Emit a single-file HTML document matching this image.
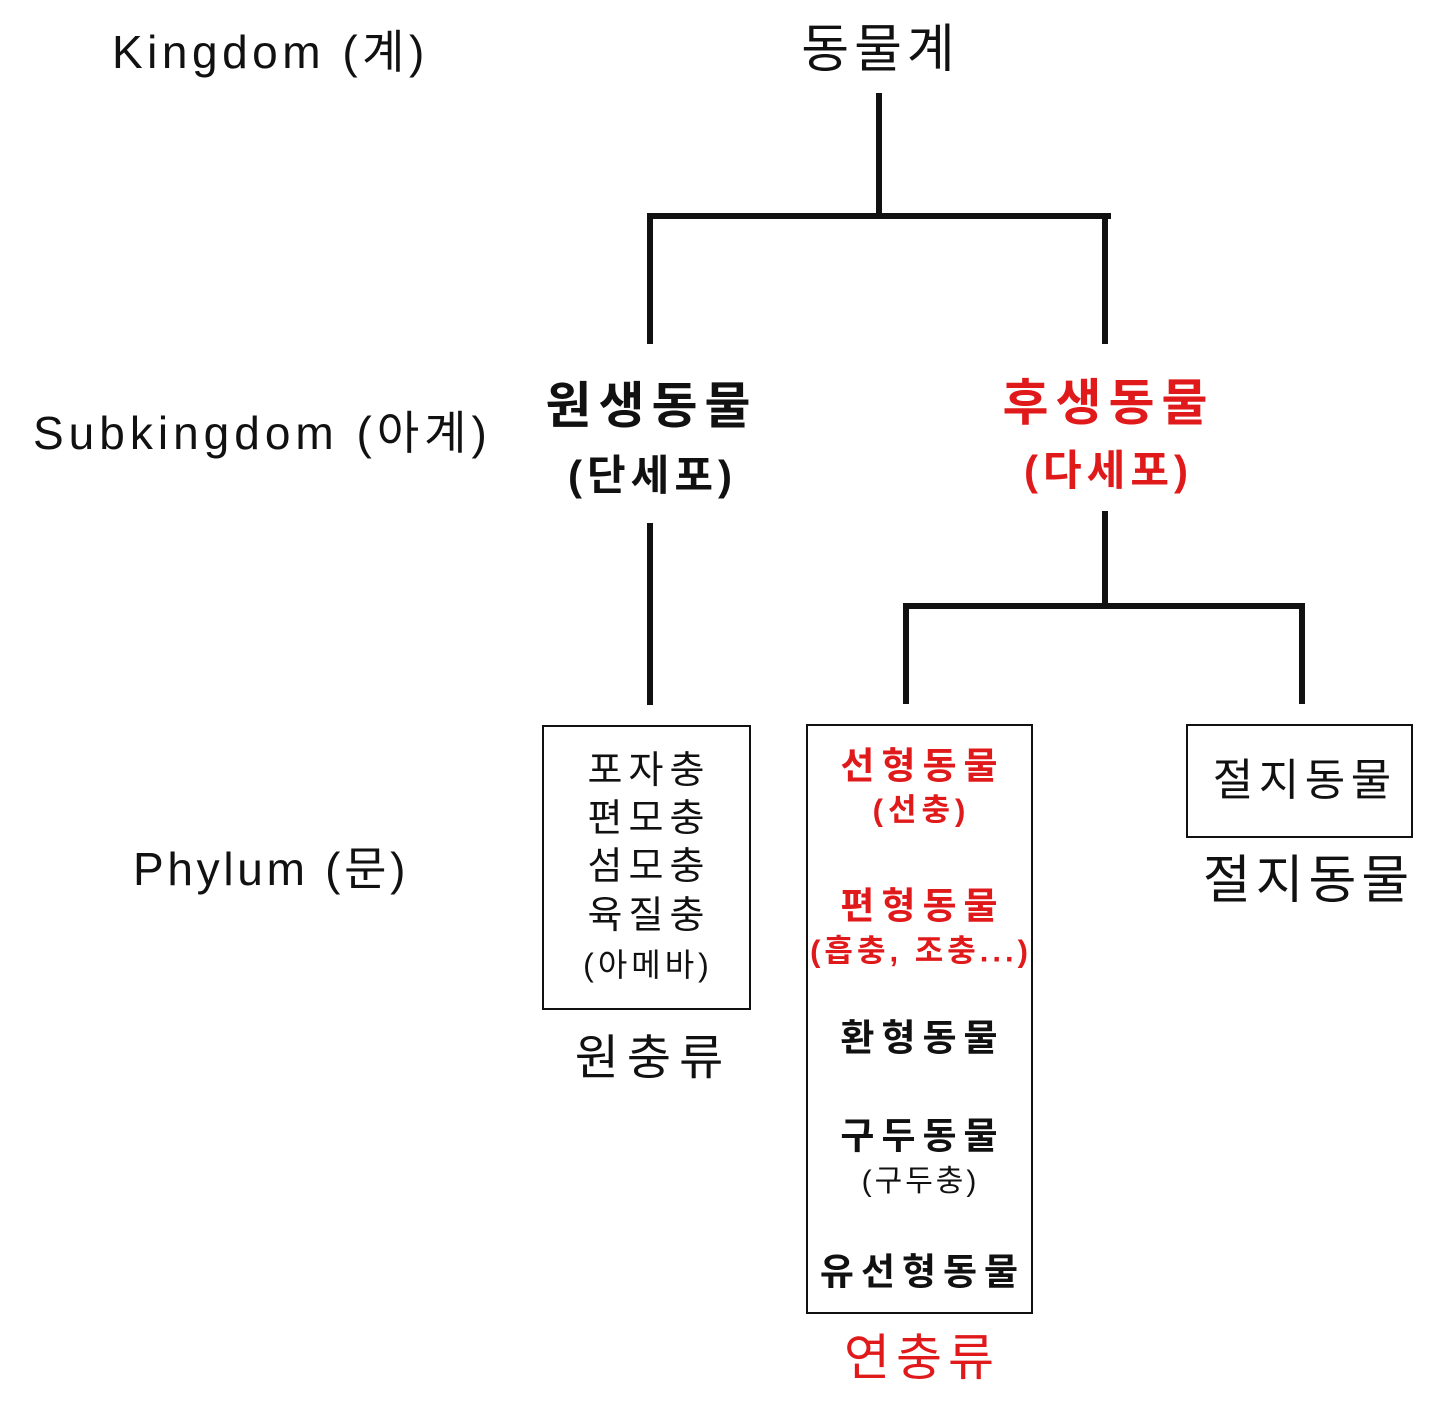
<!DOCTYPE html>
<html><head><meta charset="utf-8"><style>
html,body{margin:0;padding:0;background:#fff;}
body{width:1440px;height:1414px;position:relative;overflow:hidden;font-family:"Liberation Sans","Noto Sans CJK KR","NanumGothic",sans-serif;color:#111;}
.t{position:absolute;transform:translate(-50%,-50%);white-space:nowrap;line-height:1;letter-spacing:var(--ls,0px);padding-left:var(--ls,0px);}
.l{position:absolute;transform:translateY(-50%);white-space:nowrap;line-height:1;}
.b{font-weight:bold;}
.r{color:#e0191b;}
.v{position:absolute;width:6px;background:#111;}
.h{position:absolute;height:6px;background:#111;}
.box{position:absolute;border:2px solid #111;box-sizing:border-box;}
</style></head><body>
<div class="l" style="left:112px;top:52px;font-size:46px;letter-spacing:4.5px;">Kingdom (계)</div>
<div class="l" style="left:33px;top:433px;font-size:46px;letter-spacing:5px;">Subkingdom (아계)</div>
<div class="l" style="left:133px;top:869px;font-size:46px;letter-spacing:3.7px;">Phylum (문)</div>

<div class="t" style="left:878px;top:50px;font-size:52px;--ls:5px;">동물계</div>
<div class="v" style="left:876px;top:93px;height:125px;"></div>
<div class="h" style="left:647px;top:213px;width:464px;"></div>
<div class="v" style="left:647px;top:213px;height:131px;"></div>
<div class="v" style="left:1102px;top:213px;height:131px;"></div>

<div class="t b" style="left:648px;top:406px;font-size:50px;--ls:7px;">원생동물</div>
<div class="t b" style="left:650px;top:476px;font-size:42px;--ls:5px;">(단세포)</div>
<div class="t b r" style="left:1105px;top:403px;font-size:50px;--ls:7px;">후생동물</div>
<div class="t b r" style="left:1106px;top:471px;font-size:42px;--ls:5px;">(다세포)</div>

<div class="v" style="left:647px;top:523px;height:182px;"></div>
<div class="v" style="left:1102px;top:511px;height:98px;"></div>
<div class="h" style="left:903px;top:603px;width:402px;"></div>
<div class="v" style="left:903px;top:603px;height:101px;"></div>
<div class="v" style="left:1299px;top:603px;height:101px;"></div>

<div class="box" style="left:542px;top:725px;width:209px;height:285px;"></div>
<div class="t" style="left:646px;top:771px;font-size:38px;--ls:6px;">포자충</div>
<div class="t" style="left:646px;top:819px;font-size:38px;--ls:6px;">편모충</div>
<div class="t" style="left:646px;top:867px;font-size:38px;--ls:6px;">섬모충</div>
<div class="t" style="left:646px;top:916px;font-size:38px;--ls:6px;">육질충</div>
<div class="t" style="left:646px;top:965px;font-size:32px;--ls:4px;">(아메바)</div>
<div class="t" style="left:649px;top:1059px;font-size:48px;--ls:8px;">원충류</div>

<div class="box" style="left:806px;top:724px;width:227px;height:590px;"></div>
<div class="t b r" style="left:919px;top:766px;font-size:37px;--ls:7px;">선형동물</div>
<div class="t b r" style="left:919px;top:810px;font-size:31px;--ls:5px;">(선충)</div>
<div class="t b r" style="left:919px;top:906px;font-size:37px;--ls:7px;">편형동물</div>
<div class="t b r" style="left:919px;top:951px;font-size:31px;--ls:4px;">(흡충, 조충...)</div>
<div class="t b" style="left:919px;top:1038px;font-size:37px;--ls:7px;">환형동물</div>
<div class="t b" style="left:919px;top:1136px;font-size:37px;--ls:7px;">구두동물</div>
<div class="t" style="left:919px;top:1182px;font-size:30px;--ls:3px;">(구두충)</div>
<div class="t b" style="left:919px;top:1272px;font-size:37px;--ls:7px;">유선형동물</div>
<div class="t r" style="left:919px;top:1358px;font-size:50px;--ls:6px;">연충류</div>

<div class="box" style="left:1186px;top:724px;width:227px;height:114px;"></div>
<div class="t" style="left:1302px;top:781px;font-size:44px;--ls:5.5px;">절지동물</div>
<div class="t" style="left:1306px;top:881px;font-size:52px;--ls:5px;">절지동물</div>
</body></html>
